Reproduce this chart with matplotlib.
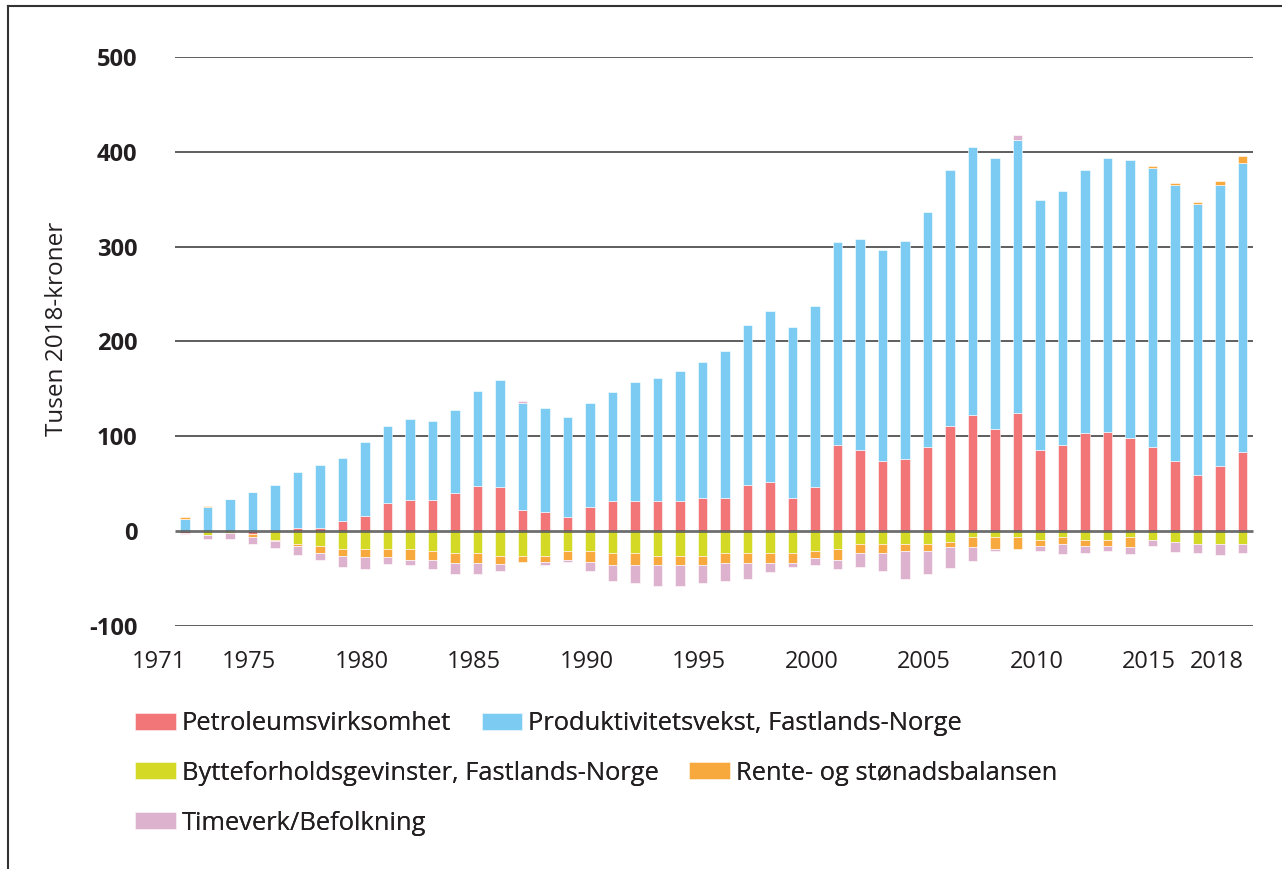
import numpy as np
import matplotlib
matplotlib.use("Agg")
import matplotlib.pyplot as plt
from matplotlib.lines import Line2D

plt.rcParams['font.family'] = ['Open Sans', 'DejaVu Sans']

years = np.arange(1972, 2020)

# tusen 2018-kroner per innbygger, bidrag fra hver kilde
petroleum = [-1.5, 0, 0, -3, 0, 3.5, 3.5, 11, 16, 30, 33, 33, 40, 47.5, 47, 22.5,
             20, 15, 25, 32, 32, 32, 32, 34.5, 34.5, 49, 52, 34.5, 47, 91, 86, 74,
             76, 89, 111, 122, 108, 125, 86, 91, 103, 105, 98, 89, 74, 59, 69, 84]
produktivitet = [12.5, 25, 34, 41.5, 48.5, 58.5, 66, 66, 78, 81, 85, 83, 87.5, 100, 112, 112.5,
                 110, 105, 110, 115, 125, 129.5, 137, 144, 156, 168.5, 180, 180.5, 190, 214, 222, 222,
                 229.5, 248, 270, 283.5, 285.5, 288, 263, 268, 278, 288.5, 293, 294, 290.5, 285.5, 295.5, 304.5]
bytteforhold = [0, -4, -1.5, 0, -9, -14, -16, -18.5, -18.5, -18.5, -18.5, -21, -23.5, -23.5, -26, -26,
                -26, -21, -21, -23.5, -23.5, -26, -26, -26, -23.5, -23.5, -23.5, -23.5, -21, -18.5, -13.5, -13.5,
                -13.5, -13.5, -11.5, -6.5, -6.5, -6.5, -9, -6.5, -9, -9, -6.5, -9, -11.5, -13.5, -13.5, -13.5]
rente = [2.8, 2, 0, -2.8, -1.5, -2, -7.5, -7.5, -9, -9, -12, -9.5, -10, -10, -9, -7,
         -7, -9.5, -12, -12, -12, -9.5, -9.5, -9.5, -10, -10, -10, -10, -7.5, -12, -10, -10,
         -7.5, -7.5, -5, -10, -12, -12.5, -7, -7.5, -7, -7, -10, 2.5, 2.3, 2.5, 4.5, 7]
timeverk = [-2, -4.5, -7, -7.5, -7.5, -9.5, -7, -12, -12.5, -7.5, -5, -9.5, -12, -12, -7.5, 2.5,
            -2.5, -2.5, -9.5, -17, -19.5, -22, -22, -19.5, -19, -16.5, -9.5, -4.5, -7, -9.5, -14.5, -19,
            -29, -24, -22, -14.5, -2.5, 5, -5, -10, -7.5, -5, -7.5, -7, -10, -9.5, -12, -9.5]

series = [
    ("Petroleumsvirksomhet", petroleum, "#f27578"),
    ("Produktivitetsvekst, Fastlands-Norge", produktivitet, "#7ccbf2"),
    ("Bytteforholdsgevinster, Fastlands-Norge", bytteforhold, "#d3d924"),
    ("Rente- og stønadsbalansen", rente, "#f8a93d"),
    ("Timeverk/Befolkning", timeverk, "#dcb2cf"),
]

xticks = [1971, 1975, 1980, 1985, 1990, 1995, 2000, 2005, 2010, 2015, 2018]
yticks = [-100, 0, 100, 200, 300, 400, 500]

W, H = 1282, 869
fig = plt.figure(figsize=(W / 100, H / 100), dpi=100)
ax = fig.add_axes([151.25 / W, 1 - 626 / H, 1102.5 / W, 569 / H])

# stablede søyler: positive opp fra null, negative ned fra null
pos = np.zeros(len(years))
neg = np.zeros(len(years))
bars = {}
for name, vals, color in series:
    v = np.array(vals, dtype=float)
    bottom = np.where(v >= 0, pos, neg)
    bars[name] = ax.bar(years, v, bottom=bottom, width=0.42, color=color,
                        edgecolor="white", linewidth=0.4, zorder=2, label=name)
    pos = pos + np.clip(v, 0, None)
    neg = neg + np.clip(v, None, 0)

for t in yticks:
    if t == 0:
        ax.hlines(0, 1971.56, 2019.47, color="#555555", lw=2, alpha=0.85, zorder=3)
    else:
        ax.hlines(t, 1971.56, 2019.47, color="#333333", lw=1.1, zorder=1)

ax.set_xlim(1970.5, 2019.5)
ax.set_ylim(-100, 500)
for s in ax.spines.values():
    s.set_visible(False)

ax.set_yticks(yticks)
ax.set_yticklabels([str(t) for t in yticks], fontsize=17, fontweight="bold", color="#231f20")
ax.set_xticks([t - 0.15 for t in xticks])
ax.set_xticklabels([str(t) for t in xticks], fontsize=17, color="#231f20")
ax.tick_params(axis="y", length=0, pad=10)
ax.tick_params(axis="x", length=0, pad=17)

ax.set_ylabel("Tusen 2018-kroner", fontsize=17.5, color="#231f20")
ax.yaxis.set_label_coords(-0.075, 0.523)

# tegnforklaring i tre rader
rows = [
    (["Petroleumsvirksomhet", "Produktivitetsvekst, Fastlands-Norge"], 724),
    (["Bytteforholdsgevinster, Fastlands-Norge", "Rente- og stønadsbalansen"], 773),
    (["Timeverk/Befolkning"], 823),
]
for names, ypix in rows:
    leg = fig.legend([bars[n] for n in names], names, loc="center left",
                     bbox_to_anchor=(135 / W, 1 - ypix / H), ncol=len(names),
                     frameon=False, fontsize=18.4, borderpad=0, borderaxespad=0,
                     handlelength=1.6, handleheight=0.68, handletextpad=0.22,
                     columnspacing=1.2)
    for txt in leg.get_texts():
        txt.set_color("#231f20")
    fig.add_artist(leg)

# ramme oppe og til venstre
fig.add_artist(Line2D([8 / W, 8 / W], [0, 1 - 6 / H], color="#333333", lw=1.5))
fig.add_artist(Line2D([8 / W, 1], [1 - 6 / H, 1 - 6 / H], color="#333333", lw=1.5))

fig.savefig("out.png", dpi=100)
